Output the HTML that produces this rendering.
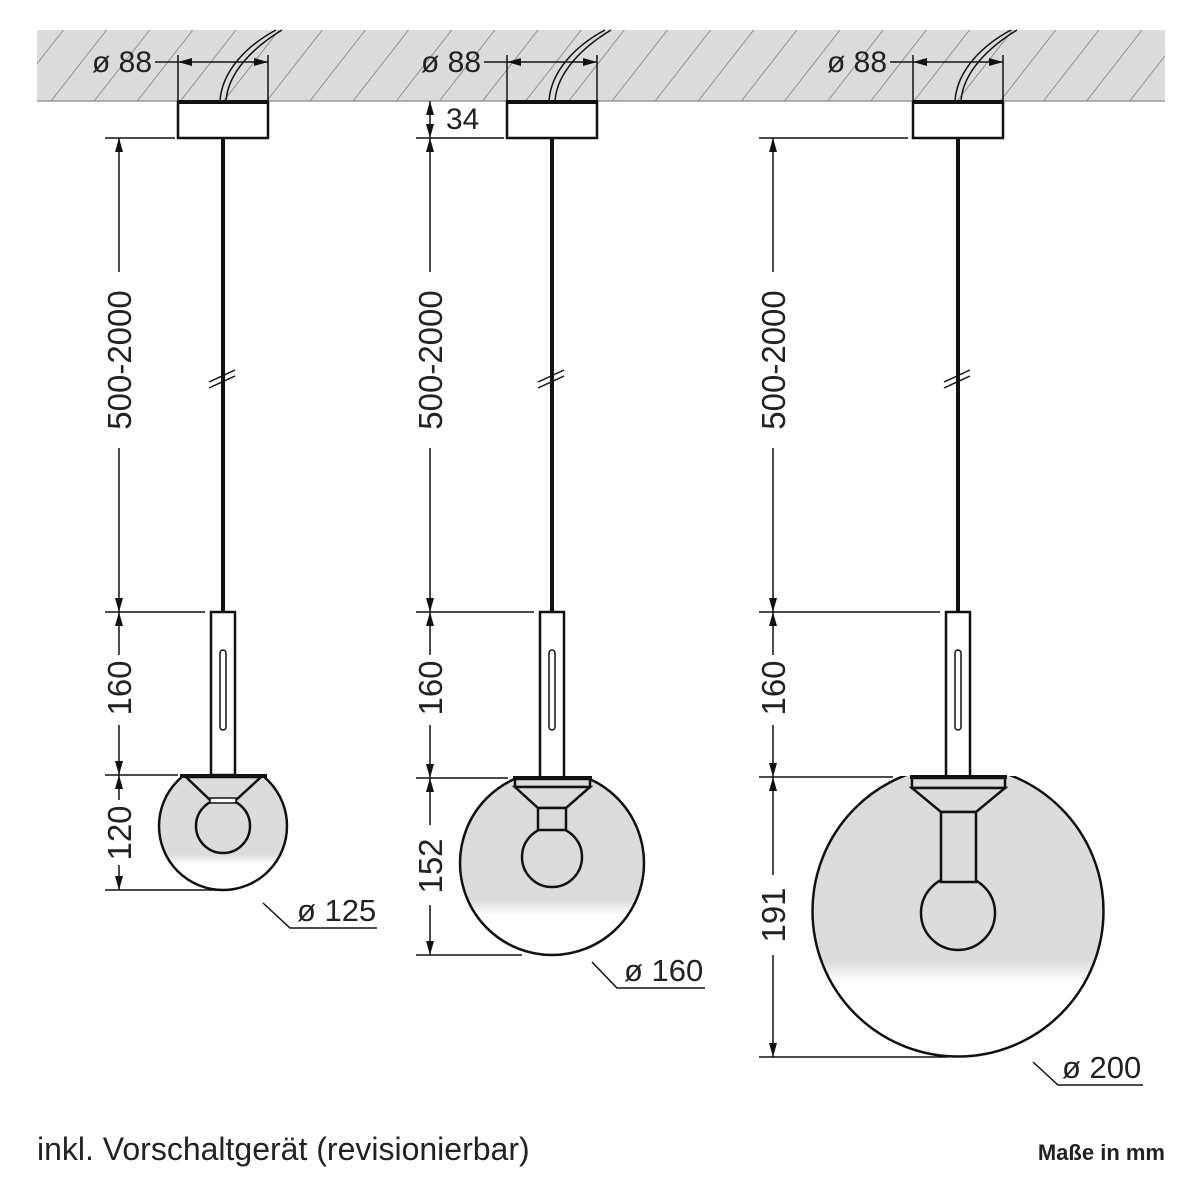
<!DOCTYPE html>
<html><head><meta charset="utf-8"><style>
html,body{margin:0;padding:0;background:#fff}
svg{display:block}
text{font-family:"Liberation Sans",Arial,sans-serif;fill:#222}
</style></head><body>
<svg width="1200" height="1200" viewBox="0 0 1200 1200" xmlns="http://www.w3.org/2000/svg">
<defs>
<pattern id="h" width="34" height="34" patternUnits="userSpaceOnUse" patternTransform="rotate(38)">
<rect width="34" height="34" fill="#dcdcdc"/>
<line x1="0" y1="0" x2="0" y2="34" stroke="#777" stroke-width="1.5"/>
</pattern>
<marker id="a" markerWidth="14" markerHeight="8" refX="14" refY="4" orient="auto" markerUnits="userSpaceOnUse">
<path d="M0,0 L14,4 L0,8 z" fill="#111"/></marker>
<linearGradient id="g1" gradientUnits="userSpaceOnUse" x1="0" y1="762" x2="0" y2="890"><stop offset="0.72" stop-color="#dcdcdc"/><stop offset="0.8" stop-color="#fff"/></linearGradient>
<linearGradient id="g2" gradientUnits="userSpaceOnUse" x1="0" y1="771" x2="0" y2="955"><stop offset="0.7" stop-color="#dcdcdc"/><stop offset="0.78" stop-color="#fff"/></linearGradient>
<linearGradient id="g3" gradientUnits="userSpaceOnUse" x1="0" y1="766" x2="0" y2="1057"><stop offset="0.67" stop-color="#dcdcdc"/><stop offset="0.74" stop-color="#fff"/></linearGradient>
</defs>

<rect x="37" y="30" width="1128" height="71" fill="url(#h)"/>
<line x1="37" y1="101" x2="1165" y2="101" stroke="#999" stroke-width="1.5"/>

<g stroke="#111" fill="none">
<path d="M220,101 C222,70 248,45 276,30" stroke-width="1.5"/><path d="M226,101 C228,72 254,47 282,30" stroke-width="1.5"/>
<path d="M549,101 C551,70 577,45 605,30" stroke-width="1.5"/><path d="M555,101 C557,72 583,47 611,30" stroke-width="1.5"/>
<path d="M955,101 C957,70 983,45 1011,30" stroke-width="1.5"/><path d="M961,101 C963,72 989,47 1017,30" stroke-width="1.5"/>
</g>

<g stroke="#111" stroke-width="2.5" fill="#fff">
<rect x="178" y="102" width="90" height="36"/>
<rect x="507" y="102" width="90" height="36"/>
<rect x="913" y="102" width="90" height="36"/>
</g>
<g fill="#111"><rect x="178" y="100" width="90" height="4"/><rect x="507" y="100" width="90" height="4"/><rect x="913" y="100" width="90" height="4"/></g>

<g stroke="#111" stroke-width="4">
<line x1="223" y1="138" x2="223" y2="612"/>
<line x1="552" y1="138" x2="552" y2="612"/>
<line x1="958" y1="138" x2="958" y2="612"/>
</g>
<g stroke="#111" stroke-width="1.5">
<line x1="209" y1="382" x2="235" y2="370"/><line x1="209" y1="388" x2="235" y2="376"/>
<line x1="538" y1="382" x2="564" y2="370"/><line x1="538" y1="388" x2="564" y2="376"/>
<line x1="944" y1="382" x2="970" y2="370"/><line x1="944" y1="388" x2="970" y2="376"/>
</g>

<g stroke="#111" stroke-width="2.5">
<circle cx="223" cy="826" r="64" fill="url(#g1)"/>
<circle cx="552" cy="863" r="92" fill="url(#g2)"/>
<circle cx="958" cy="911" r="145.5" fill="url(#g3)"/>
</g>
<g fill="#fff"><rect x="150" y="750" width="150" height="25"/><rect x="450" y="750" width="200" height="28"/><rect x="800" y="740" width="320" height="36"/></g>

<g stroke="#111" stroke-width="2.5" fill="#fff">
<rect x="211" y="612" width="24" height="163"/>
<rect x="220" y="650" width="6" height="80" rx="3" stroke-width="1.5"/>
<path d="M186,777 L261,777 L236,800 L210,800 Z" fill="#dcdcdc"/>
<circle cx="223" cy="826" r="27" fill="#dcdcdc"/>
<rect x="210" y="798" width="26" height="5" fill="#fff" stroke-width="1.5"/>
</g>
<line x1="180" y1="776" x2="267" y2="776" stroke="#111" stroke-width="4"/>

<g stroke="#111" stroke-width="2.5" fill="#fff">
<rect x="540" y="612" width="24" height="166"/>
<rect x="549" y="650" width="6" height="80" rx="3" stroke-width="1.5"/>
<rect x="515" y="779" width="75" height="8" fill="#dcdcdc"/>
<path d="M515,787 L590,787 L566,808 L538,808 Z" fill="#dcdcdc"/>
<circle cx="552" cy="857" r="30" fill="#dcdcdc"/>
<rect x="538" y="808" width="28" height="22" fill="#dcdcdc"/>
</g>
<line x1="513" y1="778" x2="592" y2="778" stroke="#111" stroke-width="4"/>

<g stroke="#111" stroke-width="2.5" fill="#fff">
<rect x="946" y="612" width="24" height="165"/>
<rect x="955" y="650" width="6" height="80" rx="3" stroke-width="1.5"/>
<rect x="912" y="778" width="93" height="10" fill="#dcdcdc"/>
<path d="M912,788 L1005,788 L976,812 L941,812 Z" fill="#dcdcdc"/>
<circle cx="958" cy="913" r="37" fill="#dcdcdc"/>
<rect x="941" y="812" width="35" height="70" fill="#dcdcdc"/>
</g>
<line x1="910" y1="777" x2="1007" y2="777" stroke="#111" stroke-width="4"/>

<g stroke="#111" stroke-width="1.5" fill="none">
<line x1="155" y1="62" x2="178" y2="62"/><line x1="178" y1="55" x2="178" y2="101"/><line x1="268" y1="55" x2="268" y2="101"/>
<line x1="223" y1="62" x2="178" y2="62" marker-end="url(#a)"/><line x1="223" y1="62" x2="268" y2="62" marker-end="url(#a)"/>
<line x1="484" y1="62" x2="507" y2="62"/><line x1="507" y1="55" x2="507" y2="101"/><line x1="597" y1="55" x2="597" y2="101"/>
<line x1="552" y1="62" x2="507" y2="62" marker-end="url(#a)"/><line x1="552" y1="62" x2="597" y2="62" marker-end="url(#a)"/>
<line x1="890" y1="62" x2="913" y2="62"/><line x1="913" y1="55" x2="913" y2="101"/><line x1="1003" y1="55" x2="1003" y2="101"/>
<line x1="958" y1="62" x2="913" y2="62" marker-end="url(#a)"/><line x1="958" y1="62" x2="1003" y2="62" marker-end="url(#a)"/>
</g>
<g font-size="30">
<text x="92" y="72">ø 88</text>
<text x="421" y="72">ø 88</text>
<text x="827" y="72">ø 88</text>
<text x="446" y="129">34</text>
</g>

<g stroke="#111" stroke-width="1.5" fill="none">
<line x1="105" y1="138" x2="175" y2="138"/><line x1="105" y1="612" x2="205" y2="612"/><line x1="105" y1="775" x2="178" y2="775"/><line x1="105" y1="890" x2="223" y2="890"/>
<line x1="119" y1="272" x2="119" y2="138" marker-end="url(#a)"/><line x1="119" y1="448" x2="119" y2="612" marker-end="url(#a)"/>
<line x1="119" y1="655" x2="119" y2="612" marker-end="url(#a)"/><line x1="119" y1="725" x2="119" y2="775" marker-end="url(#a)"/>
<line x1="119" y1="800" x2="119" y2="775" marker-end="url(#a)"/><line x1="119" y1="865" x2="119" y2="890" marker-end="url(#a)"/>
<line x1="416" y1="138" x2="504" y2="138"/><line x1="416" y1="612" x2="534" y2="612"/><line x1="416" y1="778" x2="508" y2="778"/><line x1="416" y1="955" x2="522" y2="955"/>
<line x1="430" y1="120" x2="430" y2="101" marker-end="url(#a)"/><line x1="430" y1="120" x2="430" y2="138" marker-end="url(#a)"/>
<line x1="430" y1="272" x2="430" y2="138" marker-end="url(#a)"/><line x1="430" y1="448" x2="430" y2="612" marker-end="url(#a)"/>
<line x1="430" y1="655" x2="430" y2="612" marker-end="url(#a)"/><line x1="430" y1="725" x2="430" y2="778" marker-end="url(#a)"/>
<line x1="430" y1="825" x2="430" y2="778" marker-end="url(#a)"/><line x1="430" y1="905" x2="430" y2="955" marker-end="url(#a)"/>
<line x1="759" y1="138" x2="908" y2="138"/><line x1="759" y1="612" x2="940" y2="612"/><line x1="759" y1="777" x2="893" y2="777"/><line x1="759" y1="1057" x2="948" y2="1057"/>
<line x1="773" y1="272" x2="773" y2="138" marker-end="url(#a)"/><line x1="773" y1="448" x2="773" y2="612" marker-end="url(#a)"/>
<line x1="773" y1="655" x2="773" y2="612" marker-end="url(#a)"/><line x1="773" y1="725" x2="773" y2="777" marker-end="url(#a)"/>
<line x1="773" y1="875" x2="773" y2="777" marker-end="url(#a)"/><line x1="773" y1="955" x2="773" y2="1057" marker-end="url(#a)"/>
<polyline points="263,903 290,928 377,928"/>
<polyline points="592,962 617,988 705,988"/>
<polyline points="1033,1062 1058,1085 1143,1085"/>
</g>
<g font-size="33" text-anchor="middle">
<text transform="translate(131,360) rotate(-90)">500-2000</text>
<text transform="translate(131,688) rotate(-90)">160</text>
<text transform="translate(131,833) rotate(-90)">120</text>
<text transform="translate(442,360) rotate(-90)">500-2000</text>
<text transform="translate(442,688) rotate(-90)">160</text>
<text transform="translate(442,866) rotate(-90)">152</text>
<text transform="translate(785,360) rotate(-90)">500-2000</text>
<text transform="translate(785,688) rotate(-90)">160</text>
<text transform="translate(785,915) rotate(-90)">191</text>
</g>
<g font-size="31">
<text x="297" y="921">ø 125</text>
<text x="624" y="981">ø 160</text>
<text x="1062" y="1078">ø 200</text>
</g>
<text x="37" y="1160" font-size="32" fill="#333">inkl. Vorschaltgerät (revisionierbar)</text>
<text x="1165" y="1160" font-size="22" font-weight="bold" text-anchor="end">Maße in mm</text>
</svg>
</body></html>
